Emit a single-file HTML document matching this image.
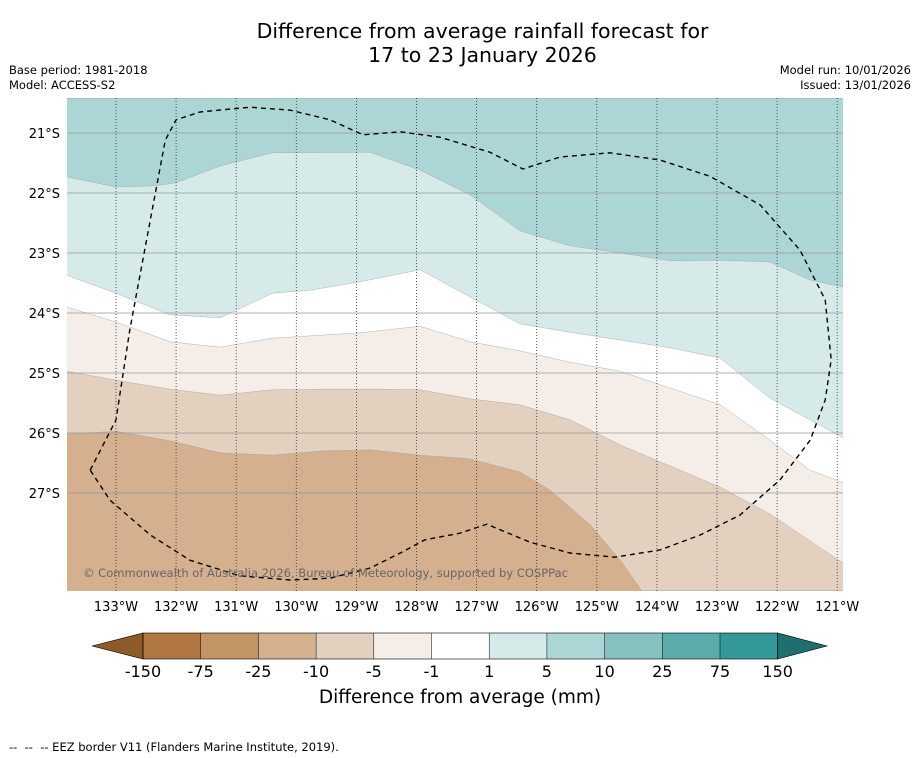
<!DOCTYPE html>
<html><head><meta charset="utf-8">
<style>
body{margin:0;width:919px;height:758px;background:#fff;font-family:"DejaVu Sans","Liberation Sans",sans-serif;overflow:hidden;position:relative}
.t{position:absolute;white-space:nowrap}
</style></head>
<body>
<div class="t" style="left:0;width:965px;text-align:center;top:19px;font-size:20.5px;line-height:24px;color:#000">Difference from average rainfall forecast for<br>17 to 23 January 2026</div>
<div class="t" style="left:9px;top:63px;font-size:11.5px">Base period: 1981-2018</div>
<div class="t" style="left:9px;top:78px;font-size:11.5px">Model: ACCESS-S2</div>
<div class="t" style="right:8px;top:63px;font-size:11.5px">Model run: 10/01/2026</div>
<div class="t" style="right:8px;top:78px;font-size:11.5px">Issued: 13/01/2026</div>
<svg id="map" width="919" height="758" style="position:absolute;left:0;top:0"></svg>
<div class="t" style="left:9px;top:740px;font-size:11.5px">-- &nbsp;-- &nbsp;-- EEZ border V11 (Flanders Marine Institute, 2019).</div>
<script>
const NS="http://www.w3.org/2000/svg";
const svg=document.getElementById('map');
const FONT='DejaVu Sans, Liberation Sans, sans-serif';
const lonTicks=[133,132,131,130,129,128,127,126,125,124,123,122,121];
const latTicks=[21,22,23,24,25,26,27];
const fillColors=["#e4d0bf","#f4ede8","#ffffff","#d6eae9","#acd6d5"];
const baseColor="#d4b08f";
const c5lon=[133.82,133,132.1,131.27,130.4,129.6,128.77,127.94,127.11,126.28,125.78,125.11,124.61,124.25];
const c5lat=[26.02,25.97,26.13,26.33,26.37,26.3,26.28,26.37,26.43,26.65,26.95,27.53,28.12,28.63];
const c4lon=[133.82,133,132.1,131.27,130.4,129.6,128.6,127.94,127.11,126.28,125.45,124.61,123.78,122.95,122.12,120.9];
const c4lat=[24.97,25.12,25.27,25.37,25.28,25.27,25.27,25.28,25.43,25.53,25.78,26.2,26.55,26.9,27.35,28.17];
const c3lon=[133.82,133,132.1,131.27,130.4,128.94,127.94,127.11,126.28,125.45,124.61,123.78,122.95,122.12,121.45,120.9];
const c3lat=[23.9,24.15,24.48,24.57,24.42,24.33,24.22,24.48,24.63,24.82,24.97,25.25,25.53,26.12,26.62,26.83];
const c2lon=[133.82,133,132.1,131.27,130.4,129.77,128.94,127.94,127.11,126.28,125.45,124.61,123.78,122.95,122.12,120.9];
const c2lat=[23.37,23.67,24.03,24.08,23.67,23.62,23.48,23.28,23.73,24.18,24.32,24.45,24.58,24.75,25.42,26.08];
const c1lon=[133.82,133,132.35,132,131.27,130.4,128.77,127.94,127.11,126.28,125.45,124.61,123.78,122.95,122.12,121.45,120.9];
const c1lat=[21.73,21.9,21.88,21.83,21.55,21.33,21.32,21.62,22.03,22.63,22.88,23,23.13,23.12,23.15,23.45,23.57];
const eezLon=[133.43,133,132.77,132.43,132.18,132,131.6,130.77,130.1,129.44,128.89,128.27,127.61,126.78,126.23,125.61,124.78,123.95,123.12,122.28,121.62,121.2,121.1,121.2,121.45,121.95,122.62,123.28,123.95,124.7,125.45,126.11,126.83,127.28,127.86,128.27,128.77,129.44,130.1,130.94,131.77,132.43,133.1,133.43];
const eezLat=[26.62,25.78,24.28,22.45,21.12,20.78,20.65,20.57,20.62,20.78,21.03,20.98,21.07,21.32,21.6,21.4,21.33,21.45,21.72,22.2,22.95,23.78,24.78,25.45,26.12,26.78,27.37,27.7,27.95,28.07,28.0,27.82,27.52,27.67,27.78,28.0,28.25,28.42,28.45,28.38,28.12,27.7,27.12,26.62];
const cbLabels=["-150","-75","-25","-10","-5","-1","1","5","10","25","75","150"];
const cbColors=["#b07840","#c29566","#d4b08f","#e4d0bf","#f4ede8","#ffffff","#d6eae9","#acd6d5","#86c1c0","#5aacab","#33999a"];
const cbLow="#8e5a28", cbHigh="#1f6f6e";

const X0=67,X1=843,Y0=98,Y1=591;
const LONMAX=133.82,LONMIN=120.9,LATMIN=20.42,LATMAX=28.63;
function xs(lon){return 116+(133-lon)*60.1;}
function ys(lat){return 133+(lat-21)*60;}
function el(tag,attrs,parent){const e=document.createElementNS(NS,tag);for(const k in attrs)e.setAttribute(k,attrs[k]);(parent||svg).appendChild(e);return e;}

const defs=el('defs',{});
const cp=el('clipPath',{id:'clip'},defs);
el('rect',{x:X0,y:Y0,width:X1-X0,height:Y1-Y0},cp);
const g=el('g',{'clip-path':'url(#clip)'});


const base=el('rect',{x:X0,y:Y0,width:X1-X0,height:Y1-Y0,fill:baseColor},g);



const contours=[[c5lon,c5lat],[c4lon,c4lat],[c3lon,c3lat],[c2lon,c2lat],[c1lon,c1lat]];
const bandNames=['band-minus5-to-minus10','band-minus1-to-minus5','band-minus1-to-1','band-1-to-5','band-5-to-10'];
contours.forEach((c,i)=>{
  const pts=c[0].map((lo,j)=>[xs(lo),ys(c[1][j])]);
  let d='M'+pts.map(p=>p[0].toFixed(1)+','+p[1].toFixed(1)).join(' L');
  const last=pts[pts.length-1];
  if(last[0]<X1-1) d+=' L'+xs(LONMIN)+','+ys(LATMAX);
  d+=' L'+xs(LONMIN)+','+ys(LATMIN)+' L'+xs(LONMAX)+','+ys(LATMIN)+' Z';
  const p=el('path',{d:d,fill:fillColors[i],stroke:'#a0a0a0','stroke-width':0.4},g);
  
  
});
latTicks.forEach(la=>{
  const l=el('line',{x1:X0,x2:X1,y1:ys(la),y2:ys(la),stroke:'#999','stroke-width':0.7},g);
  
  
});
lonTicks.forEach(lo=>{
  const l=el('line',{x1:xs(lo),x2:xs(lo),y1:Y0,y2:Y1,stroke:'#333','stroke-width':0.8,'stroke-dasharray':'1,2'},g);
  
  
});
const eez=el('path',{d:'M'+eezLon.map((lo,j)=>xs(lo).toFixed(1)+','+ys(eezLat[j]).toFixed(1)).join(' L'),fill:'none',stroke:'#000','stroke-width':1.4,'stroke-dasharray':'5,4'},g);


const cr=el('text',{x:83,y:577,'font-size':11.5,fill:'#666','font-family':FONT,textLength:485,lengthAdjust:'spacingAndGlyphs'},g);
cr.textContent='© Commonwealth of Australia 2026, Bureau of Meteorology, supported by COSPPac';



latTicks.forEach(la=>{
  const t=el('text',{x:60,y:ys(la)+5,'font-size':13,'text-anchor':'end',fill:'#000','font-family':FONT});
  t.textContent=la+'°S';
  
  
});
lonTicks.forEach(lo=>{
  const t=el('text',{x:xs(lo),y:611,'font-size':13,'text-anchor':'middle',fill:'#000','font-family':FONT});
  t.textContent=lo+'°W';
  
  
});

const CB0=143,CBW=57.7,CBY=633,CBH=26;
const cb=el('g',{});


const lt=el('polygon',{points:`${CB0},${CBY} ${CB0},${CBY+CBH} 92,${CBY+CBH/2}`,fill:cbLow,stroke:'#000','stroke-width':0.6},cb);


cbColors.forEach((c,i)=>{
  const r=el('rect',{x:CB0+i*CBW,y:CBY,width:CBW,height:CBH,fill:c},cb);
  
  
});
const xe=CB0+cbColors.length*CBW;
const ht=el('polygon',{points:`${xe},${CBY} ${xe},${CBY+CBH} 827,${CBY+CBH/2}`,fill:cbHigh,stroke:'#000','stroke-width':0.6},cb);


el('rect',{x:CB0,y:CBY,width:xe-CB0,height:CBH,fill:'none',stroke:'#000','stroke-width':0.6},cb);
cbLabels.forEach((s,i)=>{
  el('line',{x1:CB0+i*CBW,x2:CB0+i*CBW,y1:CBY,y2:CBY+CBH,stroke:'#000','stroke-width':0.5},cb);
  const t=el('text',{x:CB0+i*CBW,y:677,'font-size':16,'text-anchor':'middle',fill:'#000','font-family':FONT},cb);
  t.textContent=s;
  
  
});
const ct=el('text',{x:460,y:703,'font-size':18.5,'text-anchor':'middle',fill:'#000','font-family':FONT});
ct.textContent='Difference from average (mm)';


</script>
</body></html>
